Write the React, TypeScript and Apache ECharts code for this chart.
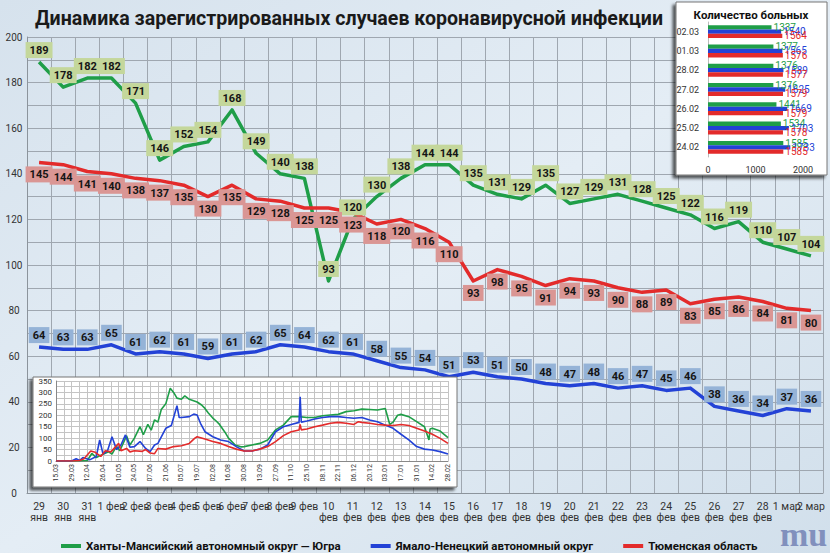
import { useEffect, useRef } from "react";
import * as echarts from "echarts";

const FONT = "Roboto";

// main chart: daily values, 29 Jan – 2 Mar
const dayLabels = [
  "29\nянв", "30\nянв", "31\nянв", "1 фев", "2 фев", "3 фев", "4 фев", "5 фев", "6 фев",
  "7 фев", "8 фев", "9 фев", "10\nфев", "11\nфев", "12\nфев", "13\nфев", "14\nфев",
  "15\nфев", "16\nфев", "17\nфев", "18\nфев", "19\nфев", "20\nфев", "21\nфев", "22\nфев",
  "23\nфев", "24\nфев", "25\nфев", "26\nфев", "27\nфев", "28\nфев", "1 мар", "2 мар",
];
const khmao = [189, 178, 182, 182, 171, 146, 152, 154, 168, 149, 140, 138, 93, 120, 130, 138, 144,
  144, 135, 131, 129, 135, 127, 129, 131, 128, 125, 122, 116, 119, 110, 107, 104];
const yanao = [64, 63, 63, 65, 61, 62, 61, 59, 61, 62, 65, 64, 62, 61, 58, 55, 54,
  51, 53, 51, 50, 48, 47, 48, 46, 47, 45, 46, 38, 36, 34, 37, 36];
const tyumen = [145, 144, 141, 140, 138, 137, 135, 130, 135, 129, 128, 125, 125, 123, 118, 120, 116,
  110, 93, 98, 95, 91, 94, 93, 90, 88, 89, 83, 85, 86, 84, 81, 80];

// inset bars: patients count
const barDates = ["02.03", "01.03", "28.02", "27.02", "26.02", "25.02", "24.02"];
const barKhmao = [1337, 1377, 1376, 1376, 1441, 1534, 1585];
const barYanao = [1540, 1565, 1589, 1625, 1669, 1703, 1733];
const barTyumen = [1564, 1576, 1577, 1579, 1579, 1578, 1585];

// inset year chart: [day since 15.03, cases]
const yearTicks = ["15.03", "29.03", "12.04", "26.04", "10.05", "24.05", "07.06", "21.06", "05.07",
  "19.07", "02.08", "16.08", "30.08", "13.09", "27.09", "11.10", "25.10", "08.11", "22.11",
  "06.12", "20.12", "03.01", "17.01", "31.01", "14.02", "28.02"];
const yearKhmao = [
  [0, 0], [14, 0], [28, 2], [32, 33], [36, 15], [42, 30], [47, 40], [50, 30], [54, 65], [57, 45],
  [63, 110], [66, 70], [70, 100], [75, 150], [78, 115], [82, 160], [85, 135], [88, 180], [91, 170],
  [94, 225], [98, 250], [102, 318], [105, 300], [108, 275], [112, 270], [115, 285], [119, 270],
  [126, 258], [130, 245], [133, 230], [136, 210], [140, 188], [143, 175], [146, 160], [151, 125],
  [154, 100], [157, 85], [160, 70], [165, 62], [168, 63], [175, 70], [182, 77], [189, 92],
  [196, 136], [203, 157], [210, 194], [217, 194], [224, 190], [231, 190], [238, 198], [245, 201],
  [252, 204], [259, 216], [266, 220], [273, 227], [280, 225], [287, 223], [294, 230], [298, 160],
  [301, 170], [305, 200], [308, 204], [315, 194], [322, 172], [329, 150], [333, 92], [334, 140],
  [336, 143], [343, 131], [350, 102],
];
const yearYanao = [
  [0, 0], [14, 0], [18, 10], [21, 2], [24, 15], [30, 5], [36, 20], [39, 92], [42, 30], [46, 45],
  [50, 106], [54, 50], [58, 70], [62, 114], [66, 60], [70, 63], [75, 85], [80, 55], [84, 41],
  [88, 70], [91, 77], [98, 143], [103, 155], [108, 242], [110, 190], [112, 190], [119, 194],
  [123, 205], [126, 201], [129, 165], [133, 128], [140, 106], [147, 92], [154, 85], [161, 63],
  [168, 44], [175, 44], [182, 52], [189, 70], [196, 128], [203, 150], [210, 160], [217, 169],
  [218, 281], [219, 170], [224, 175], [231, 184], [238, 190], [245, 194], [252, 194], [259, 190],
  [266, 187], [273, 190], [280, 179], [287, 172], [294, 157], [301, 143], [308, 117], [315, 92],
  [322, 63], [329, 52], [336, 48], [343, 41], [350, 31],
];
const yearTyumen = [
  [0, 0], [14, 0], [21, 2], [25, 10], [31, 44], [35, 38], [40, 20], [44, 45], [49, 40], [56, 77],
  [58, 45], [63, 55], [66, 40], [70, 45], [77, 42], [80, 50], [84, 35], [88, 32], [91, 55],
  [98, 52], [105, 63], [112, 67], [119, 77], [124, 100], [126, 106], [133, 96], [140, 85],
  [147, 77], [154, 63], [161, 52], [168, 44], [175, 44], [182, 52], [189, 63], [196, 85],
  [203, 111], [210, 128], [217, 136], [218, 160], [219, 136], [224, 140], [231, 150], [238, 157],
  [245, 165], [252, 169], [259, 165], [266, 160], [270, 172], [273, 169], [280, 165], [287, 160],
  [294, 157], [301, 155], [308, 160], [315, 155], [322, 143], [329, 131], [336, 117], [343, 99],
  [350, 77],
];

const NAMES = [
  "Ханты-Мансийский автономный округ — Югра",
  "Ямало-Ненецкий автономный округ",
  "Тюменская область",
];
const GREEN = "#1f9e48";
const BLUE = "#2342d6";
const RED = "#e32b2b";

function mainLine(name: string, data: number[], color: string, labelBg: string, pos: string) {
  return {
    name,
    type: "line",
    data,
    symbol: "circle",
    symbolSize: 0,
    showSymbol: true,
    lineStyle: { color, width: 3.5, join: "round" },
    itemStyle: { color },
    label: {
      show: true,
      position: pos,
      distance: 4,
      backgroundColor: labelBg,
      padding: [3, 4, 2, 4],
      color: "#151515",
      fontSize: 11,
      fontWeight: "bold",
      fontFamily: FONT,
    },
    labelLayout: { hideOverlap: false },
    z: 2,
  };
}

function yearLine(name: string, data: number[][], color: string) {
  return {
    name,
    type: "line",
    xAxisIndex: 1,
    yAxisIndex: 1,
    data,
    showSymbol: false,
    symbol: "none",
    lineStyle: { color, width: 1.6 },
    itemStyle: { color },
    z: 30,
  };
}

function bar(name: string, data: number[], color: string) {
  return {
    name,
    type: "bar",
    xAxisIndex: 2,
    yAxisIndex: 2,
    data,
    barWidth: 4.3,
    barGap: "0%",
    itemStyle: { color },
    label: {
      show: true,
      position: "right",
      distance: 2,
      color,
      fontSize: 10,
      fontFamily: FONT,
    },
    z: 30,
  };
}

function Chart() {
  const ref = useRef<HTMLDivElement>(null);
  useEffect(() => {
    document.body.style.margin = "0";
    if (!ref.current) return;
    const chart = echarts.init(ref.current, null, { renderer: "svg" });
    chart.setOption({
      animation: false,
      backgroundColor: {
        type: "linear", x: 0, y: 0, x2: 1, y2: 1,
        colorStops: [
          { offset: 0, color: "#d6e2ed" },
          { offset: 0.5, color: "#e4edf5" },
          { offset: 1, color: "#d1dfeb" },
        ],
      },
      textStyle: { fontFamily: FONT },
      title: {
        text: "Динамика зарегистрированных случаев коронавирусной инфекции",
        left: 30,
        top: 3,
        textStyle: { fontSize: 19.6, fontWeight: "bold", color: "#1a1a1a", fontFamily: FONT },
      },
      legend: {
        data: NAMES,
        left: 56,
        top: 535,
        width: 770,
        icon: "rect",
        itemWidth: 20,
        itemHeight: 4,
        itemGap: 30,
        textStyle: { fontSize: 11.5, fontWeight: "bold", color: "#111", fontFamily: FONT },
      },
      grid: [
        { left: 27, right: 7, top: 37, bottom: 60 },
        { left: 56, right: 382, top: 381, bottom: 92 },
        { left: 708, width: 95, top: 22, height: 135 },
      ],
      xAxis: [
        {
          type: "category",
          data: dayLabels,
          boundaryGap: true,
          axisLine: { lineStyle: { color: "#8c949c" } },
          axisTick: { show: false },
          splitLine: { show: true, lineStyle: { color: "#9fa7b0", width: 1 } },
          axisLabel: { interval: 0, fontSize: 10.5, lineHeight: 11, color: "#333", margin: 8 },
        },
        {
          type: "value",
          gridIndex: 1,
          min: 0,
          max: 350,
          interval: 14,
          z: 25,
          axisLine: { show: true, lineStyle: { color: "#888" } },
          axisTick: { show: false },
          splitLine: { show: true, lineStyle: { color: "#c4c4c4" } },
          minorTick: { show: false, splitNumber: 2 },
          minorSplitLine: { show: true, lineStyle: { color: "#c4c4c4" } },
          axisLabel: {
            rotate: 90,
            fontSize: 7,
            color: "#333",
            margin: 3,
            formatter: (v: number) => yearTicks[Math.round(v / 14)] ?? "",
          },
        },
        {
          type: "value",
          gridIndex: 2,
          min: 0,
          max: 2000,
          interval: 1000,
          z: 25,
          axisLine: { show: false },
          axisTick: { show: false },
          splitLine: { show: false },
          axisLabel: { fontSize: 9, color: "#333", margin: 8, formatter: (v: number) => String(v) },
        },
      ],
      yAxis: [
        {
          type: "value",
          min: 0,
          max: 200,
          interval: 10,
          axisLine: { show: true, lineStyle: { color: "#8c949c" } },
          axisTick: { show: false },
          splitLine: { show: true, lineStyle: { color: "#9fa7b0", width: 1 } },
          axisLabel: {
            fontSize: 10,
            color: "#333",
            align: "center",
            margin: 13,
            formatter: (v: number) => (v % 20 === 0 ? String(v) : ""),
          },
        },
        {
          type: "value",
          gridIndex: 1,
          min: 0,
          max: 350,
          interval: 50,
          z: 25,
          axisLine: { show: true, lineStyle: { color: "#888" } },
          axisTick: { show: false },
          splitLine: { show: true, lineStyle: { color: "#c4c4c4" } },
          minorTick: { show: false, splitNumber: 2 },
          minorSplitLine: { show: true, lineStyle: { color: "#c4c4c4" } },
          axisLabel: { fontSize: 8, color: "#333", margin: 4 },
        },
        {
          type: "category",
          gridIndex: 2,
          data: barDates,
          inverse: true,
          z: 25,
          axisLine: { show: true, lineStyle: { color: "#bbb" } },
          axisTick: { show: false },
          axisLabel: { fontSize: 9, color: "#333", margin: 9 },
        },
      ],
      graphic: [
        {
          type: "rect",
          z: 10,
          shape: { x: 33, y: 377, width: 424, height: 110 },
          style: {
            fill: "#fff",
            stroke: "#777",
            lineWidth: 1,
            shadowBlur: 3,
            shadowOffsetX: -3,
            shadowOffsetY: 3,
            shadowColor: "rgba(0,0,0,0.65)",
          },
        },
        {
          type: "rect",
          z: 10,
          shape: { x: 676, y: 2, width: 151, height: 173 },
          style: {
            fill: "#fff",
            stroke: "#777",
            lineWidth: 1,
            shadowBlur: 3,
            shadowOffsetX: -3,
            shadowOffsetY: 3,
            shadowColor: "rgba(0,0,0,0.65)",
          },
        },
        {
          type: "text",
          z: 30,
          x: 751,
          y: 15,
          style: {
            text: "Количество больных",
            align: "center",
            verticalAlign: "middle",
            fontSize: 11.5,
            fontWeight: "bold",
            fontFamily: FONT,
            fill: "#111",
          },
        },
        {
          type: "text",
          z: 5,
          x: 780,
          y: 517,
          style: {
            text: "mu",
            fontSize: 34,
            fontWeight: "bold",
            fontFamily: "Liberation Serif",
            fill: "#8190bd",
          },
        },
      ],
      series: [
        mainLine(NAMES[0], khmao, GREEN, "#c4d79b", "top"),
        mainLine(NAMES[1], yanao, BLUE, "#95b3d7", "top"),
        mainLine(NAMES[2], tyumen, RED, "#da9694", "bottom"),
        yearLine("ХМАО", yearKhmao, GREEN),
        yearLine("ЯНАО", yearYanao, BLUE),
        yearLine("Тюменская обл.", yearTyumen, RED),
        bar("ХМАО ", barKhmao, GREEN),
        bar("ЯНАО ", barYanao, BLUE),
        bar("Тюменская обл. ", barTyumen, RED),
      ],
    });
    return () => chart.dispose();
  }, []);
  return <div ref={ref} style={{ width: 830, height: 553 }} />;
}

export default function App() {
  return <Chart />;
}
